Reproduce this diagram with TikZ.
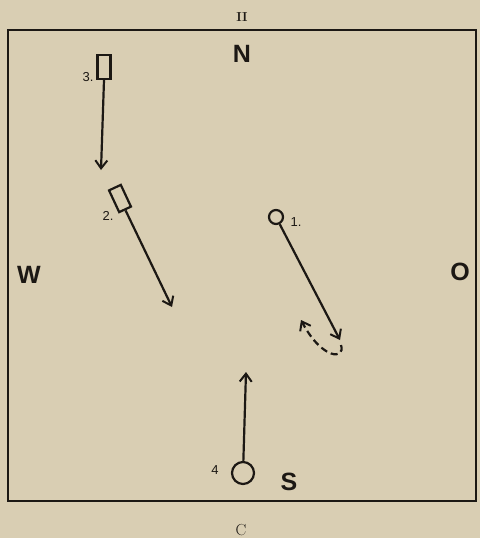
\documentclass[tikz,border=0pt]{standalone}
\usepackage{fontspec}
\usetikzlibrary{arrows.meta}
\newfontfamily\dirfont{Liberation Sans}
\definecolor{paper}{RGB}{217,206,179}
\definecolor{ink}{RGB}{28,24,20}
\tikzset{
  pen/.style={ink, line width=2.2pt},
  move/.style={pen, -{Straight Barb[length=8pt,width=12pt,line width=2pt]}},
  marker/.style={draw=ink, line width=2.2pt, inner sep=0pt},
  dirlabel/.style={ink, font=\dirfont\bfseries\fontsize{25}{25}\selectfont},
  numlabel/.style={ink, font=\dirfont\fontsize{13}{13}\selectfont},
}
\begin{document}
\begin{tikzpicture}[x=1pt,y=-1pt]
        % Draw the paper and the frame
        \fill[paper] (0,0) rectangle (480,538);
        \useasboundingbox (0,0) rectangle (480,538);
        \draw[ink, line width=2.6pt] (8,30) rectangle (476,501);

        % Plate and figure marks
        \node[ink, font=\bfseries\fontsize{13}{13}\selectfont] (plate) at (242,17) {II};
        \node[ink, font=\fontsize{16}{16}\selectfont] (fig) at (241,530) {C};

        % Draw the directions
        \node[dirlabel] (N) at (242,54) {N};
        \node[dirlabel] (W) at (29,275) {W};
        \node[dirlabel] (O) at (460,272) {O};
        \node[dirlabel] (S) at (289,482) {S};

        % Marker 3 and its move
        \node[marker, rectangle, minimum width=13pt, minimum height=24pt] (b3) at (104,67) {};
        \node[numlabel] (n3) at (88,77) {3.};
        \coordinate (t3) at (101,170);
        \draw[move] (b3.south) -- (t3);

        % Marker 2 and its move
        \node[marker, rectangle, rotate=25, minimum width=13pt, minimum height=24pt] (b2) at (120,198.5) {};
        \node[numlabel] (n2) at (108,216) {2.};
        \coordinate (t2) at (172,307);
        \draw[move] (b2.south) -- (t2);

        % Marker 1, its move and the way back
        \node[marker, circle, minimum size=14pt] (c1) at (276,217) {};
        \node[numlabel] (n1) at (296,222) {1.};
        \coordinate (t1) at (340,340);
        \draw[move] (c1) -- (t1);
        \coordinate (d1) at (341,345);
        \coordinate (d2) at (301,320);
        \draw[move, dash pattern=on 7pt off 4pt] (d1) .. controls (346,360) and (322,360) .. (d2);

        % Marker 4 and its move
        \node[marker, circle, minimum size=22pt] (c4) at (243,473) {};
        \node[numlabel] (n4) at (215,470) {4};
        \coordinate (t4) at (246,372);
        \draw[move] (c4) -- (t4);
\end{tikzpicture}
\end{document}
